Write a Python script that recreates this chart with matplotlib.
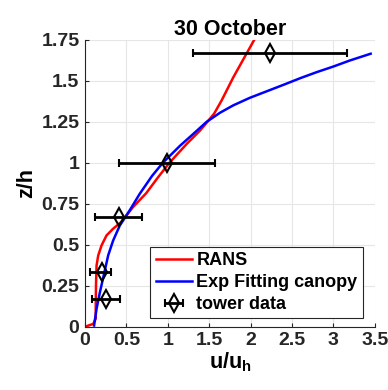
import matplotlib
matplotlib.use('Agg')
import matplotlib.pyplot as plt

plt.rcParams['font.family'] = ['Liberation Sans', 'DejaVu Sans']
plt.rcParams['font.weight'] = 'bold'
plt.rcParams['mathtext.fontset'] = 'custom'
plt.rcParams['mathtext.bf'] = 'Liberation Sans:bold'
plt.rcParams['mathtext.rm'] = 'Liberation Sans:bold'

# RANS profile (u/uh, z/h)
rans_u = [0.0, 0.02, 0.10, 0.13, 0.13, 0.133, 0.14, 0.16, 0.20, 0.26, 0.34,
          0.44, 0.58, 0.74, 0.88, 1.02, 1.23, 1.39, 1.47, 1.56, 1.65, 1.79,
          1.95, 2.04]
rans_z = [0.0, 0.004, 0.018, 0.05, 0.13, 0.25, 0.374, 0.435, 0.496, 0.557, 0.598,
          0.64, 0.73, 0.815, 0.91, 1.0, 1.116, 1.197, 1.245, 1.30, 1.38, 1.52,
          1.665, 1.746]

# exponential fit inside the canopy
fit_u = [0.11, 0.14, 0.18, 0.235, 0.28, 0.34, 0.42, 0.54, 0.66, 0.81, 0.94,
         1.15, 1.31, 1.47, 1.63, 1.79, 1.99, 2.20, 2.40, 2.60, 2.80, 3.0,
         3.20, 3.45]
fit_z = [0.008, 0.11, 0.21, 0.333, 0.435, 0.526, 0.617, 0.71, 0.81, 0.92, 1.0,
         1.105, 1.177, 1.25, 1.305, 1.35, 1.396, 1.437, 1.476, 1.516, 1.553, 1.587,
         1.624, 1.665]

# tower measurements with min/max spread
tower_z = [0.167, 0.333, 0.667, 1.0, 1.667]
tower_u = [0.25, 0.20, 0.415, 0.99, 2.24]
tower_lo = [0.09, 0.065, 0.126, 0.415, 1.30]
tower_hi = [0.42, 0.32, 0.69, 1.57, 3.17]

xticks = [0, 0.5, 1, 1.5, 2, 2.5, 3, 3.5]
xticklabels = ['0', '0.5', '1', '1.5', '2', '2.5', '3', '3.5']
yticks = [0, 0.25, 0.5, 0.75, 1, 1.25, 1.5, 1.75]
yticklabels = ['0', '0.25', '0.5', '0.75', '1', '1.25', '1.5', '1.75']

fig = plt.figure(figsize=(3.88, 3.90), dpi=100)
ax = fig.add_axes([0.219, 0.162, 0.747, 0.736])

ax.plot(rans_u, rans_z, color='#ff0000', lw=1.8, label='RANS',
        solid_joinstyle='round')
ax.plot(fit_u, fit_z, color='#0000ff', lw=1.8, label='Exp Fitting canopy',
        solid_joinstyle='round')

xerr = [[u - lo for u, lo in zip(tower_u, tower_lo)],
        [hi - u for u, hi in zip(tower_u, tower_hi)]]
ax.errorbar(tower_u, tower_z, xerr=xerr, fmt='d', color='black', mfc='none',
            mec='black', mew=1.5, ms=9, ecolor='black', elinewidth=2,
            capsize=3, capthick=2, label='tower data')

ax.set_xlim(0, 3.5)
ax.set_ylim(0, 1.75)
ax.set_xticks(xticks)
ax.set_xticklabels(xticklabels)
ax.set_yticks(yticks)
ax.set_yticklabels(yticklabels)
ax.tick_params(direction='in', length=3, width=0.8, colors='#262626',
               labelsize=14, labelcolor='#262626', pad=4)
ax.grid(True, color='#e6e6e6', lw=0.8)
ax.set_axisbelow(True)
for side in ['top', 'right']:
    ax.spines[side].set_visible(False)
for side in ['left', 'bottom']:
    ax.spines[side].set_color('#262626')
    ax.spines[side].set_linewidth(0.8)

ax.set_title('30 October', fontsize=15.5, fontweight='bold', pad=3)
ax.set_xlabel(r'u/u$_\mathbf{h}$', fontsize=15.5, fontweight='bold', labelpad=1)
ax.set_ylabel('z/h', fontsize=15.5, fontweight='bold', labelpad=3)

leg = ax.legend(loc='lower right', bbox_to_anchor=(0.959, 0.029), fontsize=13,
                fancybox=False, framealpha=1, edgecolor='#262626',
                handlelength=2.0, borderpad=0.3, labelspacing=0.28,
                handletextpad=0.25, borderaxespad=0)
leg.get_frame().set_linewidth(0.8)

fig.savefig('out.png', dpi=100)
